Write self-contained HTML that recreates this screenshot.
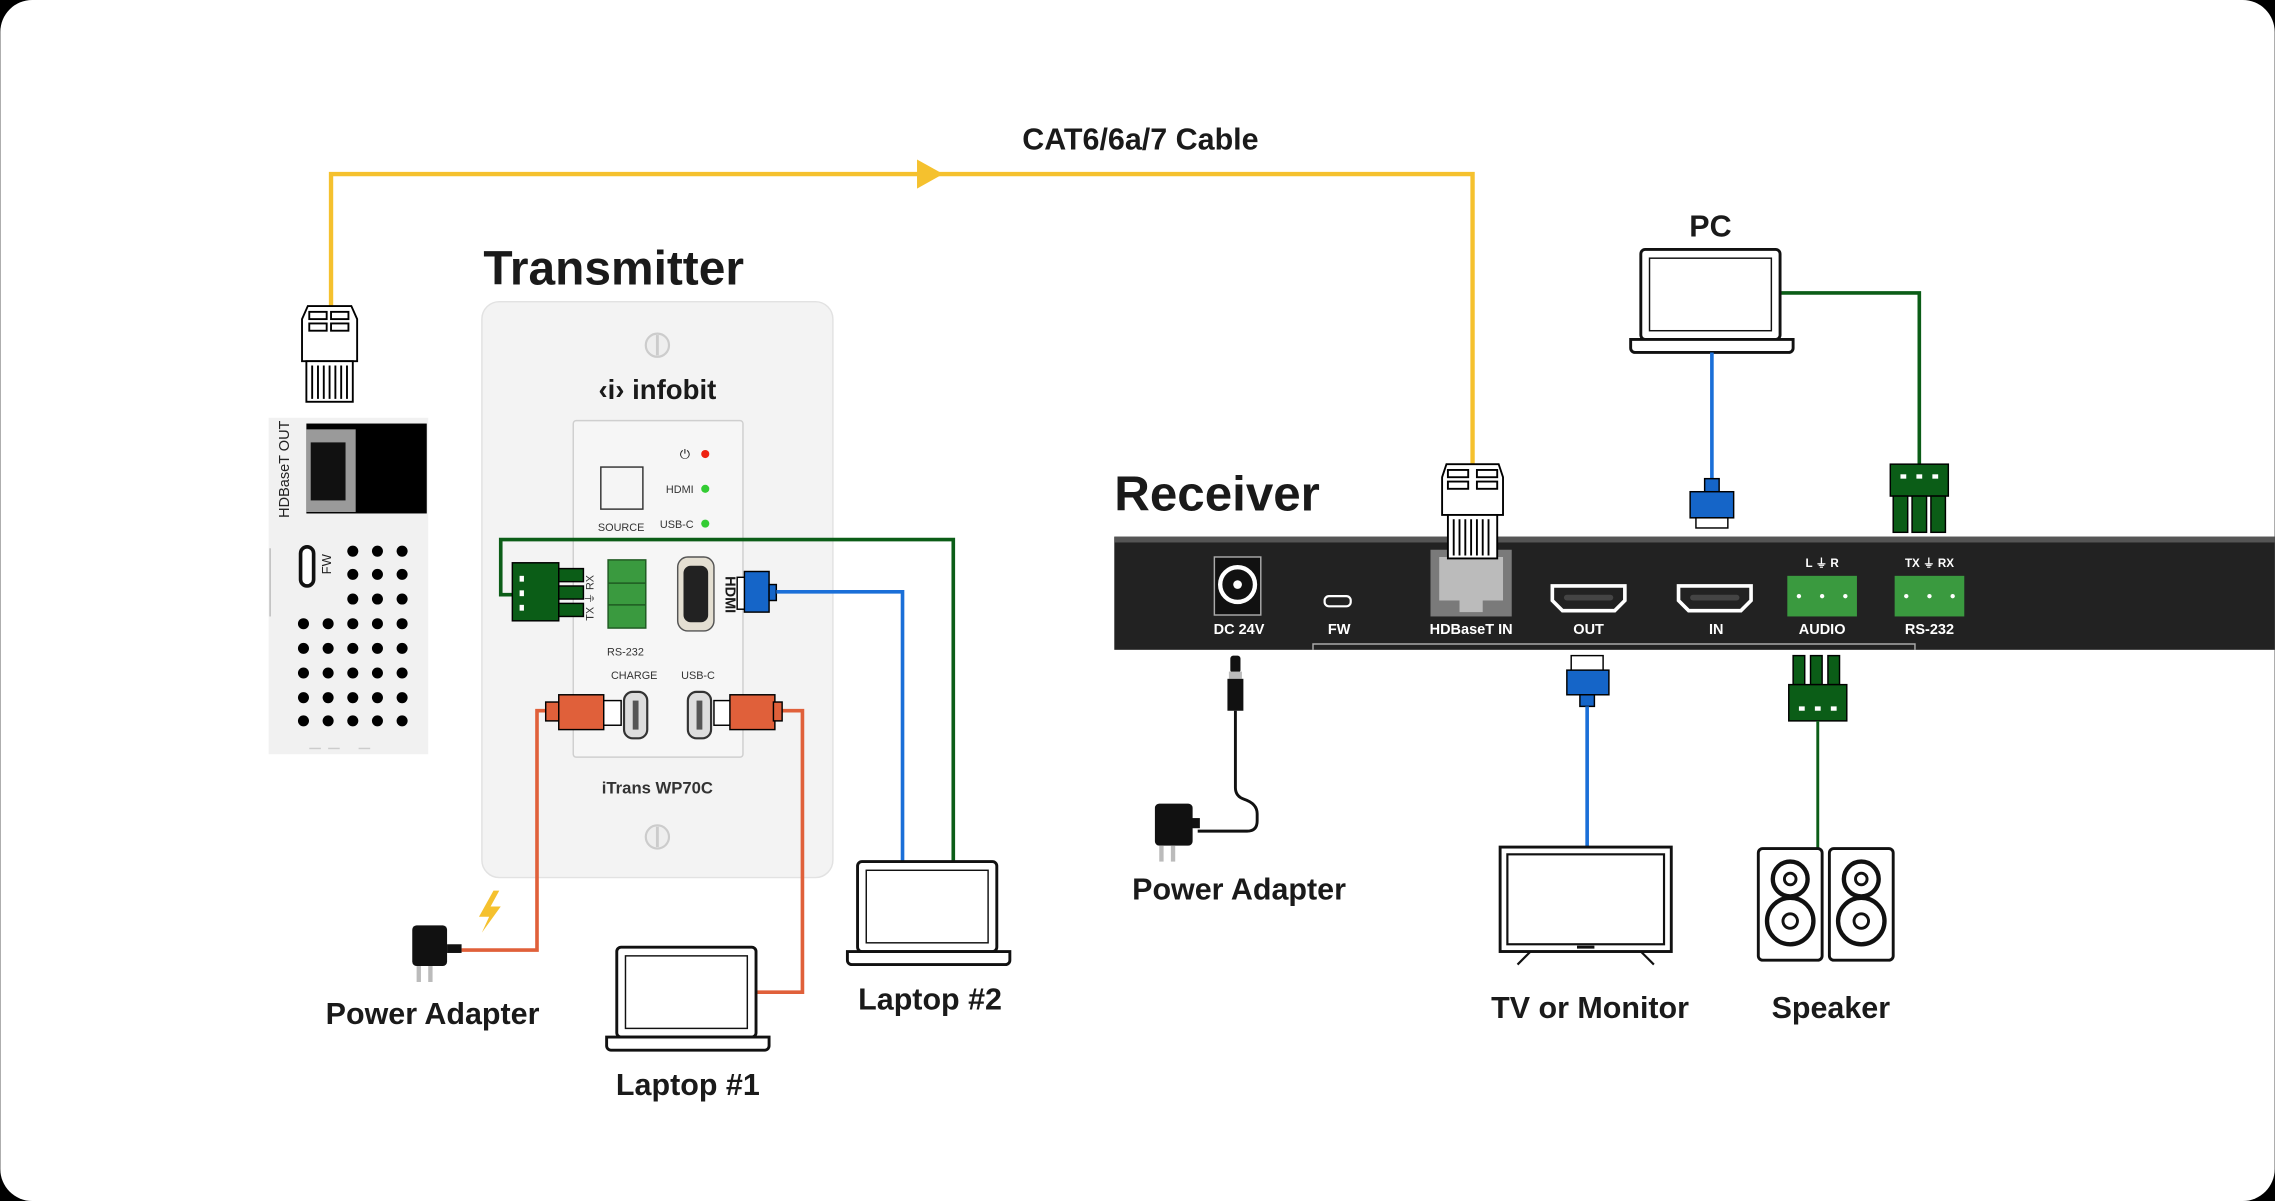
<!DOCTYPE html>
<html><head><meta charset="utf-8"><style>
html,body{margin:0;padding:0;background:#000;}
svg{display:block}
text{font-family:"Liberation Sans Narrow","Liberation Sans",sans-serif;font-weight:bold;fill:#1a1a1a}
.s{font-family:"Liberation Sans",sans-serif;font-weight:normal}
</style></head><body>
<svg width="2275" height="1201" viewBox="0 0 1568 828" xmlns="http://www.w3.org/2000/svg">
<rect x="0" y="0" width="1568" height="828" fill="#000"/>
<rect x="0" y="0" width="1568" height="828" rx="22" fill="#fff"/>

<!-- yellow cable -->
<polyline points="228,225 228,120 1015,120 1015,322" fill="none" stroke="#f5c12e" stroke-width="3"/>
<polygon points="632,110 650,120 632,130" fill="#f5c12e"/>
<text x="786" y="103" font-size="21" text-anchor="middle">CAT6/6a/7 Cable</text>

<!-- left RJ45 plug -->
<g stroke="#000" stroke-width="1.3" fill="#fff">
<path d="M208,220 L212,211 L242,211 L246,220 L246,249 L208,249 Z"/>
<rect x="213" y="215" width="12" height="5"/><rect x="228" y="215" width="12" height="5"/>
<rect x="213" y="223" width="12" height="5"/><rect x="228" y="223" width="12" height="5"/>
<rect x="211" y="249" width="32" height="28"/>
<path d="M215,252v23M219,252v23M223,252v23M227,252v23M231,252v23M235,252v23M239,252v23" />
</g>

<!-- left side device -->
<rect x="185" y="288" width="110" height="232" fill="#f1f1f1"/>
<rect x="211" y="292" width="83" height="62" fill="#000"/>
<rect x="211" y="296" width="34" height="57" fill="#9a9a9a"/>
<rect x="214" y="305" width="24" height="40" fill="#111"/>
<text x="199" y="357" font-size="10" class="s" transform="rotate(-90 199 357)" style="fill:#222">HDBaseT OUT</text>
<rect x="207" y="377" width="9" height="27" rx="4.5" fill="#fff" stroke="#111" stroke-width="2.5"/>
<text x="228" y="396" font-size="9" class="s" transform="rotate(-90 228 396)" style="fill:#222">FW</text>
<line x1="186" y1="378" x2="186" y2="425" stroke="#bbb"/>
<g fill="#000">
<circle cx="243" cy="380" r="3.8"/><circle cx="260" cy="380" r="3.8"/><circle cx="277" cy="380" r="3.8"/>
<circle cx="243" cy="396" r="3.8"/><circle cx="260" cy="396" r="3.8"/><circle cx="277" cy="396" r="3.8"/>
<circle cx="243" cy="413" r="3.8"/><circle cx="260" cy="413" r="3.8"/><circle cx="277" cy="413" r="3.8"/>
<circle cx="209" cy="430" r="3.8"/><circle cx="226" cy="430" r="3.8"/><circle cx="243" cy="430" r="3.8"/><circle cx="260" cy="430" r="3.8"/><circle cx="277" cy="430" r="3.8"/>
<circle cx="209" cy="447" r="3.8"/><circle cx="226" cy="447" r="3.8"/><circle cx="243" cy="447" r="3.8"/><circle cx="260" cy="447" r="3.8"/><circle cx="277" cy="447" r="3.8"/>
<circle cx="209" cy="464" r="3.8"/><circle cx="226" cy="464" r="3.8"/><circle cx="243" cy="464" r="3.8"/><circle cx="260" cy="464" r="3.8"/><circle cx="277" cy="464" r="3.8"/>
<circle cx="209" cy="481" r="3.8"/><circle cx="226" cy="481" r="3.8"/><circle cx="243" cy="481" r="3.8"/><circle cx="260" cy="481" r="3.8"/><circle cx="277" cy="481" r="3.8"/>
<circle cx="209" cy="497" r="3.8"/><circle cx="226" cy="497" r="3.8"/><circle cx="243" cy="497" r="3.8"/><circle cx="260" cy="497" r="3.8"/><circle cx="277" cy="497" r="3.8"/>
</g>
<g stroke="#ccc"><line x1="213" y1="516" x2="221" y2="516"/><line x1="226" y1="516" x2="234" y2="516"/><line x1="247" y1="516" x2="255" y2="516"/></g>

<!-- Transmitter -->
<text x="333" y="196" font-size="33" style="font-family:'Liberation Sans',sans-serif">Transmitter</text>
<rect x="332" y="208" width="242" height="397" rx="12" fill="#f3f3f3" stroke="#e2e2e2"/>
<circle cx="453" cy="238" r="8" fill="#eee" stroke="#ccc" stroke-width="1.5"/><line x1="453" y1="231" x2="453" y2="245" stroke="#ccc" stroke-width="2"/>
<circle cx="453" cy="577" r="8" fill="#eee" stroke="#ccc" stroke-width="1.5"/><line x1="453" y1="570" x2="453" y2="584" stroke="#ccc" stroke-width="2"/>
<text x="453" y="275" font-size="19" text-anchor="middle" style="font-family:'Liberation Sans',sans-serif">‹i› infobit</text>
<rect x="395" y="290" width="117" height="232" rx="2" fill="#f6f6f6" stroke="#cfcfcf"/>
<rect x="414" y="322" width="29" height="29" fill="#f5f5f5" stroke="#333"/>
<text x="428" y="366" font-size="7.5" class="s" text-anchor="middle" style="fill:#333">SOURCE</text>
<text x="472" y="316" font-size="9" class="s" text-anchor="middle">⏻</text>
<circle cx="486" cy="313" r="2.8" fill="#e21"/>
<text x="478" y="340" font-size="7.5" class="s" text-anchor="end" style="fill:#333">HDMI</text>
<circle cx="486" cy="337" r="2.8" fill="#3c3"/>
<text x="478" y="364" font-size="7.5" class="s" text-anchor="end" style="fill:#333">USB-C</text>
<circle cx="486" cy="361" r="2.8" fill="#3c3"/>
<polyline points="358,410 345,410 345,372 657,372 657,594" fill="none" stroke="#0b5d17" stroke-width="2.5"/>
<rect x="353" y="388" width="32" height="40" fill="#0b5d17" stroke="#000"/>
<rect x="385" y="392" width="17" height="9" fill="#0b5d17" stroke="#000"/>
<rect x="385" y="404" width="17" height="9" fill="#0b5d17" stroke="#000"/>
<rect x="385" y="416" width="17" height="9" fill="#0b5d17" stroke="#000"/>
<rect x="358" y="397" width="3" height="4" fill="#fff"/><rect x="358" y="407" width="3" height="4" fill="#fff"/><rect x="358" y="417" width="3" height="4" fill="#fff"/>
<text x="412" y="425" font-size="7.5" class="s" transform="rotate(-90 412 428)" style="fill:#333">TX ⏚ RX</text>
<rect x="419" y="386" width="26" height="47" fill="#3a9a3f" stroke="#1f5a22"/>
<line x1="419" y1="402" x2="445" y2="402" stroke="#1f5a22"/><line x1="419" y1="417" x2="445" y2="417" stroke="#1f5a22"/>
<text x="431" y="452" font-size="7.5" class="s" text-anchor="middle" style="fill:#333">RS-232</text>
<rect x="467" y="384" width="25" height="51" rx="7" fill="#e4dfd2" stroke="#555"/>
<rect x="471" y="390" width="17" height="39" rx="5" fill="#222"/>
<text x="500" y="410" font-size="10" class="s" transform="rotate(90 500 410)" text-anchor="middle" style="font-weight:bold">HDMI</text>
<rect x="508" y="398" width="6" height="22" fill="#fff" stroke="#000"/>
<rect x="513" y="394" width="17" height="28" fill="#1565c8" stroke="#000"/>
<rect x="530" y="403" width="5" height="11" fill="#1565c8" stroke="#000"/>
<polyline points="535,408 622,408 622,594" fill="none" stroke="#1a6fd8" stroke-width="2.5"/>
<text x="437" y="468" font-size="7.5" class="s" text-anchor="middle" style="fill:#333">CHARGE</text>
<text x="481" y="468" font-size="7.5" class="s" text-anchor="middle" style="fill:#333">USB-C</text>
<rect x="430" y="477" width="16" height="32" rx="6" fill="#ddd" stroke="#333" stroke-width="1.5"/><rect x="436" y="483" width="4" height="20" fill="#555"/>
<rect x="474" y="477" width="16" height="32" rx="6" fill="#ddd" stroke="#333" stroke-width="1.5"/><rect x="480" y="483" width="4" height="20" fill="#555"/>
<polyline points="380,490 370,490 370,655 318,655" fill="none" stroke="#e0603a" stroke-width="2.5"/>
<polyline points="530,490 553,490 553,684 522,684" fill="none" stroke="#e0603a" stroke-width="2.5"/>
<rect x="376" y="484" width="10" height="13" fill="#e0603a" stroke="#000"/>
<rect x="385" y="479" width="31" height="24" fill="#e0603a" stroke="#000"/>
<rect x="416" y="483" width="12" height="17" fill="#fff" stroke="#000"/>
<rect x="492" y="483" width="12" height="17" fill="#fff" stroke="#000"/>
<rect x="503" y="479" width="31" height="24" fill="#e0603a" stroke="#000"/>
<rect x="533" y="484" width="6" height="13" fill="#e0603a" stroke="#000"/>
<text x="453" y="547" font-size="11.5" text-anchor="middle" style="font-family:'Liberation Sans',sans-serif;fill:#333">iTrans WP70C</text>

<rect x="284" y="638" width="24" height="28" rx="3" fill="#111"/>
<rect x="287" y="666" width="3" height="11" fill="#bbb"/><rect x="295" y="666" width="3" height="11" fill="#bbb"/>
<rect x="308" y="651" width="10" height="6" fill="#111"/>
<polygon points="340,614 330,632 337,632 332,643 345,625 338,625 344,614" fill="#f5c12e"/>
<text x="298" y="706" font-size="21" text-anchor="middle">Power Adapter</text>

<g fill="#fff" stroke="#111" stroke-width="2">
<rect x="425" y="653" width="96" height="62" rx="3"/><rect x="431" y="659" width="84" height="50" stroke-width="1"/>
<path d="M418,715 h112 v6 a3 3 0 0 1 -3 3 h-106 a3 3 0 0 1 -3 -3 z"/>
<rect x="591" y="594" width="96" height="62" rx="3"/><rect x="597" y="600" width="84" height="50" stroke-width="1"/>
<path d="M584,656 h112 v6 a3 3 0 0 1 -3 3 h-106 a3 3 0 0 1 -3 -3 z"/>
<rect x="1131" y="172" width="96" height="62" rx="3"/><rect x="1137" y="178" width="84" height="50" stroke-width="1"/>
<path d="M1124,234 h112 v6 a3 3 0 0 1 -3 3 h-106 a3 3 0 0 1 -3 -3 z"/>
</g>
<text x="474" y="755" font-size="21" text-anchor="middle">Laptop #1</text>
<text x="641" y="696" font-size="21" text-anchor="middle">Laptop #2</text>
<text x="1179" y="163" font-size="21" text-anchor="middle">PC</text>

<!-- Receiver -->
<text x="768" y="352" font-size="34" style="font-family:'Liberation Sans',sans-serif">Receiver</text>
<rect x="768" y="370" width="800" height="78" fill="#222"/>
<rect x="768" y="370" width="800" height="4" fill="#555"/>
<path d="M905,448 v-4 h415 v4" fill="none" stroke="#aaa" stroke-width="1"/>
<rect x="837" y="384" width="32" height="40" fill="#111" stroke="#aaa"/>
<circle cx="853" cy="403" r="12" fill="#111" stroke="#fff" stroke-width="3"/><circle cx="853" cy="403" r="3" fill="#fff"/>
<text x="854" y="437" font-size="10" text-anchor="middle" style="fill:#fff">DC 24V</text>
<rect x="913" y="411" width="18" height="7" rx="3" fill="#222" stroke="#fff" stroke-width="1.5"/>
<text x="923" y="437" font-size="10" text-anchor="middle" style="fill:#fff">FW</text>
<rect x="986" y="379" width="56" height="46" fill="#7a7a7a"/>
<rect x="992" y="384" width="44" height="30" fill="#bbb"/><rect x="1006" y="414" width="16" height="8" fill="#bbb"/>
<text x="1014" y="437" font-size="10" text-anchor="middle" style="fill:#fff">HDBaseT IN</text>
<path d="M1070,404 h50 v10 l-7,7 h-36 l-7,-7 z" fill="#222" stroke="#fff" stroke-width="2.5"/>
<rect x="1078" y="410" width="34" height="4" rx="2" fill="#444"/>
<text x="1095" y="437" font-size="10" text-anchor="middle" style="fill:#fff">OUT</text>
<path d="M1157,404 h50 v10 l-7,7 h-36 l-7,-7 z" fill="#222" stroke="#fff" stroke-width="2.5"/>
<rect x="1165" y="410" width="34" height="4" rx="2" fill="#444"/>
<text x="1183" y="437" font-size="10" text-anchor="middle" style="fill:#fff">IN</text>
<text x="1256" y="391" font-size="8" text-anchor="middle" style="fill:#fff">L  ⏚  R</text>
<rect x="1232" y="397" width="48" height="28" fill="#3a9a3f"/>
<circle cx="1240" cy="411" r="1.5" fill="#fff"/><circle cx="1256" cy="411" r="1.5" fill="#fff"/><circle cx="1272" cy="411" r="1.5" fill="#fff"/>
<text x="1256" y="437" font-size="10" text-anchor="middle" style="fill:#fff">AUDIO</text>
<text x="1330" y="391" font-size="8" text-anchor="middle" style="fill:#fff">TX ⏚ RX</text>
<rect x="1306" y="397" width="48" height="28" fill="#3a9a3f"/>
<circle cx="1314" cy="411" r="1.5" fill="#fff"/><circle cx="1330" cy="411" r="1.5" fill="#fff"/><circle cx="1346" cy="411" r="1.5" fill="#fff"/>
<text x="1330" y="437" font-size="10" text-anchor="middle" style="fill:#fff">RS-232</text>

<g stroke="#000" stroke-width="1.3" fill="#fff">
<path d="M994,329 L997,320 L1033,320 L1036,329 L1036,355 L994,355 Z"/>
<rect x="998" y="324" width="14" height="5"/><rect x="1018" y="324" width="14" height="5"/>
<rect x="998" y="332" width="14" height="5"/><rect x="1018" y="332" width="14" height="5"/>
<rect x="998" y="355" width="34" height="30"/>
<path d="M1002,358v25M1006,358v25M1010,358v25M1014,358v25M1018,358v25M1022,358v25M1026,358v25"/>
</g>

<line x1="1180" y1="243" x2="1180" y2="332" stroke="#1a6fd8" stroke-width="2.5"/>
<rect x="1175" y="330" width="10" height="9" fill="#1565c8" stroke="#000"/>
<rect x="1165" y="339" width="30" height="18" fill="#1565c8" stroke="#000"/>
<rect x="1169" y="357" width="22" height="7" fill="#fff" stroke="#000"/>
<polyline points="1228,202 1323,202 1323,320" fill="none" stroke="#0b5d17" stroke-width="2.5"/>
<rect x="1303" y="320" width="40" height="22" fill="#0b5d17" stroke="#000"/>
<rect x="1310" y="327" width="4" height="3" fill="#fff"/><rect x="1321" y="327" width="4" height="3" fill="#fff"/><rect x="1332" y="327" width="4" height="3" fill="#fff"/>
<rect x="1305" y="342" width="10" height="25" fill="#0b5d17" stroke="#000"/><rect x="1318" y="342" width="10" height="25" fill="#0b5d17" stroke="#000"/><rect x="1331" y="342" width="10" height="25" fill="#0b5d17" stroke="#000"/>

<rect x="848" y="452" width="7" height="12" rx="2" fill="#111"/>
<rect x="847" y="463" width="9" height="5" fill="#bbb"/>
<rect x="846" y="468" width="11" height="22" fill="#111"/>
<path d="M851.5,490 v53 q0,6 6,8 q9,3 9,10 v5 q0,7 -7,7 h-34" fill="none" stroke="#111" stroke-width="2"/>
<rect x="796" y="554" width="26" height="29" rx="3" fill="#111"/>
<rect x="821" y="564" width="6" height="7" fill="#111"/>
<rect x="799" y="583" width="3" height="11" fill="#bbb"/><rect x="807" y="583" width="3" height="11" fill="#bbb"/>
<text x="854" y="620" font-size="21" text-anchor="middle">Power Adapter</text>

<rect x="1083" y="452" width="22" height="11" fill="#fff" stroke="#000"/>
<rect x="1080" y="462" width="29" height="17" fill="#1565c8" stroke="#000"/>
<rect x="1089" y="479" width="10" height="8" fill="#1565c8" stroke="#000"/>
<line x1="1094" y1="487" x2="1094" y2="584" stroke="#1a6fd8" stroke-width="2.5"/>
<rect x="1034" y="584" width="118" height="72" fill="#fff" stroke="#111" stroke-width="2"/>
<rect x="1039" y="589" width="108" height="62" fill="#fff" stroke="#111" stroke-width="1.5"/>
<rect x="1087" y="652" width="12" height="2" fill="#111"/>
<line x1="1055" y1="656" x2="1046" y2="665" stroke="#111" stroke-width="1.5"/><line x1="1131" y1="656" x2="1140" y2="665" stroke="#111" stroke-width="1.5"/>
<text x="1096" y="702" font-size="21" text-anchor="middle">TV or Monitor</text>

<rect x="1236" y="452" width="8" height="20" fill="#0b5d17" stroke="#000"/><rect x="1248" y="452" width="8" height="20" fill="#0b5d17" stroke="#000"/><rect x="1260" y="452" width="8" height="20" fill="#0b5d17" stroke="#000"/>
<rect x="1233" y="472" width="40" height="25" fill="#0b5d17" stroke="#000"/>
<rect x="1240" y="487" width="4" height="3" fill="#fff"/><rect x="1251" y="487" width="4" height="3" fill="#fff"/><rect x="1262" y="487" width="4" height="3" fill="#fff"/>
<line x1="1253" y1="497" x2="1253" y2="585" stroke="#0b5d17" stroke-width="2"/>
<g fill="#fff" stroke="#111">
<rect x="1212" y="585" width="44" height="77" rx="3" stroke-width="2"/>
<rect x="1261" y="585" width="44" height="77" rx="3" stroke-width="2"/>
<circle cx="1234" cy="606" r="12" stroke-width="3"/><circle cx="1234" cy="606" r="4" stroke-width="2"/>
<circle cx="1234" cy="635" r="16" stroke-width="3"/><circle cx="1234" cy="635" r="5" stroke-width="2"/>
<circle cx="1283" cy="606" r="12" stroke-width="3"/><circle cx="1283" cy="606" r="4" stroke-width="2"/>
<circle cx="1283" cy="635" r="16" stroke-width="3"/><circle cx="1283" cy="635" r="5" stroke-width="2"/>
</g>
<text x="1262" y="702" font-size="21" text-anchor="middle">Speaker</text>
</svg>
</body></html>
